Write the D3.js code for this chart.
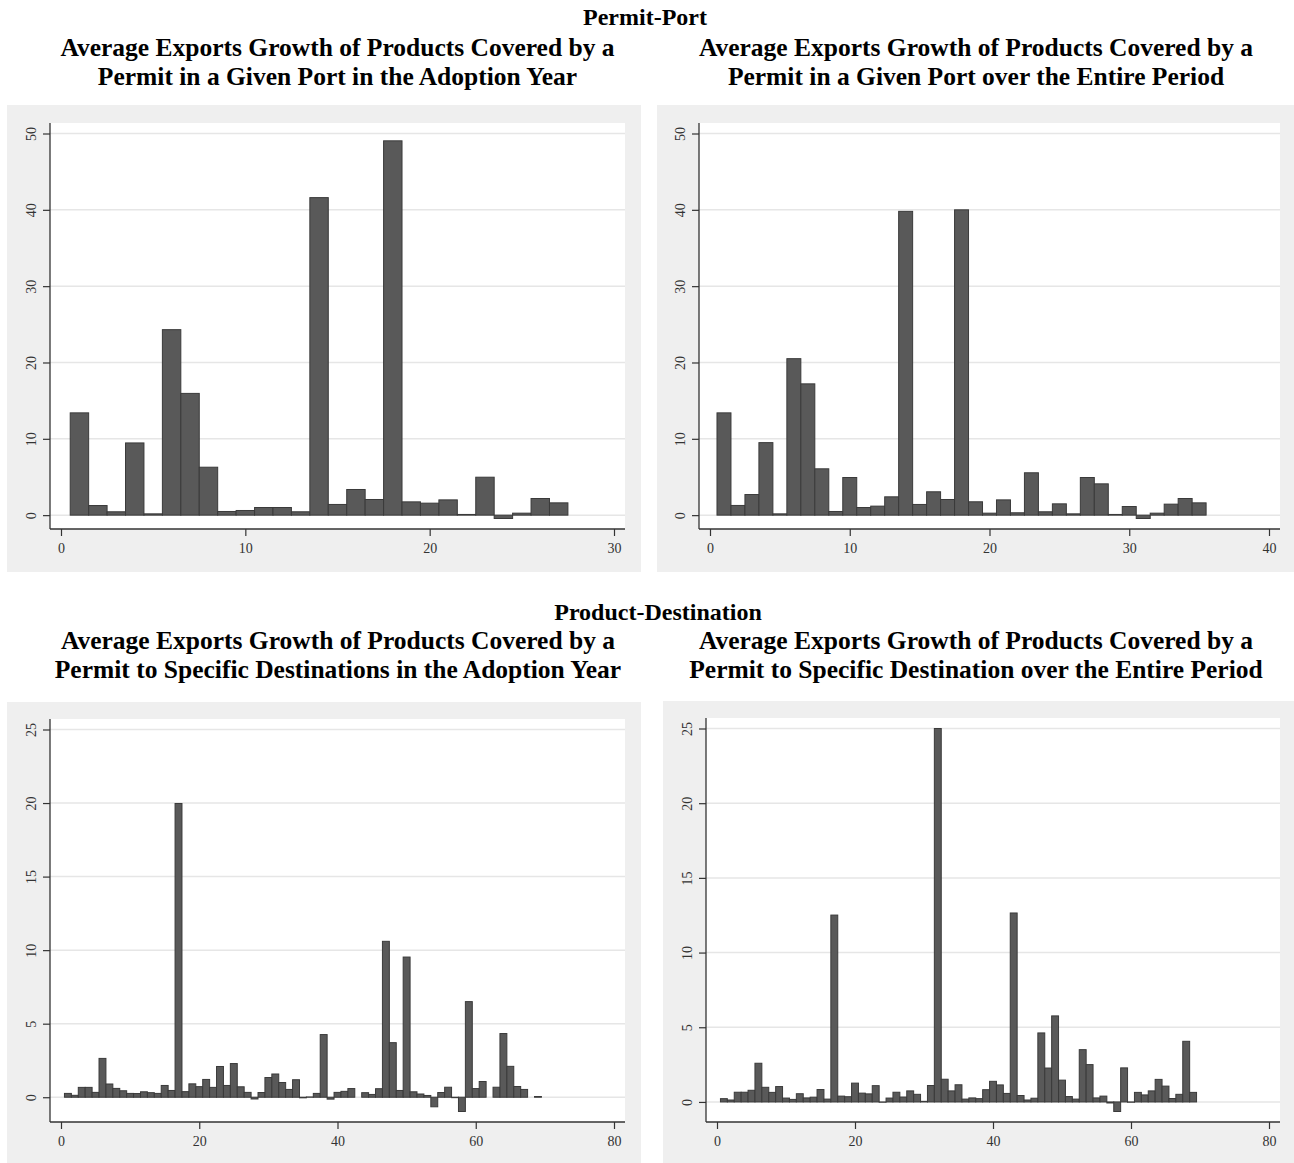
<!DOCTYPE html>
<html>
<head>
<meta charset="utf-8">
<script src="https://cdn.jsdelivr.net/npm/d3@7"></script>
<style>
    body { margin: 0; background: #ffffff; }
    svg text { font-family: "Liberation Serif", "Times New Roman", serif; }
    .section-title, .panel-title { font-weight: bold; fill: #000; text-anchor: middle; }
    .section-title { font-size: 24px; }
    .panel-title { font-size: 25.5px; }
    .tick text { fill: #333; font-size: 14px; }
    .bar { fill: #595959; stroke: #3a3a3a; stroke-width: 1; }
    .grid { stroke: #e6e6e6; stroke-width: 1.5; }
    .axis-line { stroke: #333; stroke-width: 1.3; }
</style>
</head>
<body>
<div id="chart"></div>
<script>

// average exports growth, one value per permit (1..n); null = no bar
let adoptPort = [13.4, 1.26, 0.44, 9.46, 0.17, 24.3, 15.95, 6.28, 0.48, 0.61,
    1.0, 1.0, 0.44, 41.6, 1.4, 3.36, 2.05, 49.04, 1.74, 1.57,
    2.0, 0.09, 4.97, -0.44, 0.26, 2.18, 1.61];

let entirePort = [13.4, 1.27, 2.7, 9.5, 0.17, 20.5, 17.2, 6.07, 0.48, 4.93,
    1.0, 1.18, 2.4, 39.8, 1.4, 3.06, 2.05, 40.0, 1.75, 0.26,
    2.0, 0.31, 5.55, 0.44, 1.48, 0.17, 4.93, 4.1, 0.09, 1.13,
    -0.44, 0.26, 1.44, 2.18, 1.61];

let adoptDest = [0.26, 0.13, 0.67, 0.67, 0.33, 2.64, 0.9, 0.6, 0.44, 0.26,
    0.25, 0.37, 0.31, 0.26, 0.8, 0.46, 19.97, 0.38, 0.91, 0.72,
    1.21, 0.67, 2.09, 0.8, 2.29, 0.71, 0.33, -0.12, 0.32, 1.34,
    1.58, 1.0, 0.53, 1.19, -0.04, 0.02, 0.26, 4.26, -0.13, 0.33,
    0.4, 0.59, null, 0.31, 0.19, 0.58, 10.6, 3.71, 0.46, 9.53,
    0.37, 0.22, 0.12, -0.65, 0.32, 0.68, -0.03, -0.97, 6.5, 0.59,
    1.07, null, 0.68, 4.33, 2.1, 0.73, 0.53, null, 0.05];

let entireDest = [0.22, 0.13, 0.65, 0.65, 0.78, 2.59, 0.98, 0.64, 1.03, 0.26,
    0.17, 0.55, 0.27, 0.32, 0.83, 0.19, 12.51, 0.39, 0.35, 1.26,
    0.59, 0.54, 1.09, -0.02, 0.26, 0.65, 0.33, 0.74, 0.51, 0.04,
    1.1, 25.0, 1.52, 0.74, 1.15, 0.19, 0.27, 0.22, 0.82, 1.38,
    1.14, 0.57, 12.65, 0.43, 0.13, 0.25, 4.62, 2.27, 5.76, 1.46,
    0.36, 0.19, 3.5, 2.5, 0.27, 0.39, -0.07, -0.64, 2.28, -0.02,
    0.64, 0.47, 0.74, 1.51, 1.06, 0.23, 0.51, 4.06, 0.64];

// tick labels
let portYTicks = [0, 10, 20, 30, 40, 50];
let destYTicks = [0, 5, 10, 15, 20, 25];
let adoptPortXTicks = [0, 10, 20, 30];
let entirePortXTicks = [0, 10, 20, 30, 40];
let destXTicks = [0, 20, 40, 60, 80];

let sectionTitles = ['Permit-Port', 'Product-Destination'];
let panelTitles = [
    ['Average Exports Growth of Products Covered by a', 'Permit in a Given Port in the Adoption Year'],
    ['Average Exports Growth of Products Covered by a', 'Permit in a Given Port over the Entire Period'],
    ['Average Exports Growth of Products Covered by a', 'Permit to Specific Destinations in the Adoption Year'],
    ['Average Exports Growth of Products Covered by a', 'Permit to Specific Destination over the Entire Period']
];

let width = 1294, height = 1163;
let pad = 11; // gap between plot edge and first/last tick (stata style)

let svg = d3.select('#chart').append('svg')
    .attr('width', width)
    .attr('height', height);

// box = grey graph region, plot = white plot region (x0, y0, x1, y1)
let panels = [
    {data: adoptPort, xTicks: adoptPortXTicks, yTicks: portYTicks, title: panelTitles[0],
        box: [7, 105, 641, 572], plot: [50, 123, 625, 529], tx: 337.5, ty: 56},
    {data: entirePort, xTicks: entirePortXTicks, yTicks: portYTicks, title: panelTitles[1],
        box: [657, 105, 1294, 572], plot: [699, 123, 1280, 529], tx: 976, ty: 56},
    {data: adoptDest, xTicks: destXTicks, yTicks: destYTicks, title: panelTitles[2],
        box: [7, 702, 641, 1163], plot: [50, 719, 625, 1122], tx: 338, ty: 649},
    {data: entireDest, xTicks: destXTicks, yTicks: destYTicks, title: panelTitles[3],
        box: [663, 701, 1294, 1163], plot: [706, 718, 1280, 1122], tx: 976, ty: 649}
];

svg.selectAll('text.section-title')
    .data(sectionTitles)
    .enter().append('text')
    .attr('class', 'section-title')
    .attr('x', (d, i) => i === 0 ? 645 : 658)
    .attr('y', (d, i) => i === 0 ? 25 : 620)
    .text(d => d);

let draw_panel = function (p) {
    let g = svg.append('g');
    let [bx0, by0, bx1, by1] = p.box;
    let [px0, py0, px1, py1] = p.plot;

    g.append('rect')
        .attr('x', bx0).attr('y', by0)
        .attr('width', bx1 - bx0).attr('height', by1 - by0)
        .attr('fill', '#efefef');
    g.append('rect')
        .attr('x', px0).attr('y', py0)
        .attr('width', px1 - px0).attr('height', py1 - py0)
        .attr('fill', '#ffffff');

    // title, two lines
    g.selectAll('text.panel-title')
        .data(p.title)
        .enter().append('text')
        .attr('class', 'panel-title')
        .attr('x', p.tx)
        .attr('y', (d, i) => p.ty + i * 29)
        .text(d => d);

    let xMax = p.xTicks[p.xTicks.length - 1];
    let yMax = p.yTicks[p.yTicks.length - 1];
    let yMin = Math.min(0, d3.min(p.data));

    let x = d3.scaleLinear().domain([0, xMax]).range([px0 + pad, px1 - pad]);
    let y = d3.scaleLinear().domain([yMin, yMax]).range([py1 - 10.5, py0 + 10.5]);

    g.selectAll('line.grid')
        .data(p.yTicks)
        .enter().append('line')
        .attr('class', 'grid')
        .attr('x1', px0).attr('x2', px1)
        .attr('y1', d => y(d)).attr('y2', d => y(d));

    let bars = p.data.map((v, i) => ({cat: i + 1, value: v})).filter(d => d.value !== null);
    g.selectAll('rect.bar')
        .data(bars)
        .enter().append('rect')
        .attr('class', 'bar')
        .attr('x', d => x(d.cat - 0.5))
        .attr('width', d => x(d.cat + 0.5) - x(d.cat - 0.5))
        .attr('y', d => y(Math.max(0, d.value)))
        .attr('height', d => Math.abs(y(d.value) - y(0)));

    let yAxis = g.append('g')
        .attr('transform', 'translate(' + px0 + ',0)')
        .call(d3.axisLeft(y).tickValues(p.yTicks).tickSize(7).tickSizeOuter(0));
    yAxis.select('.domain').remove();
    yAxis.selectAll('.tick line').attr('stroke', '#333').attr('stroke-width', 1.2);
    yAxis.selectAll('.tick text')
        .attr('x', 0).attr('y', -14).attr('dy', 0)
        .attr('text-anchor', 'middle')
        .attr('transform', 'rotate(-90)');

    let xAxis = g.append('g')
        .attr('transform', 'translate(0,' + py1 + ')')
        .call(d3.axisBottom(x).tickValues(p.xTicks).tickSize(7).tickPadding(7).tickSizeOuter(0));
    xAxis.select('.domain').remove();
    xAxis.selectAll('.tick line').attr('stroke', '#333').attr('stroke-width', 1.2);

    g.append('line').attr('class', 'axis-line')
        .attr('x1', px0).attr('x2', px0).attr('y1', py0).attr('y2', py1);
    g.append('line').attr('class', 'axis-line')
        .attr('x1', px0).attr('x2', px1).attr('y1', py1).attr('y2', py1);
};

panels.forEach(draw_panel);

</script>
</body>
</html>
